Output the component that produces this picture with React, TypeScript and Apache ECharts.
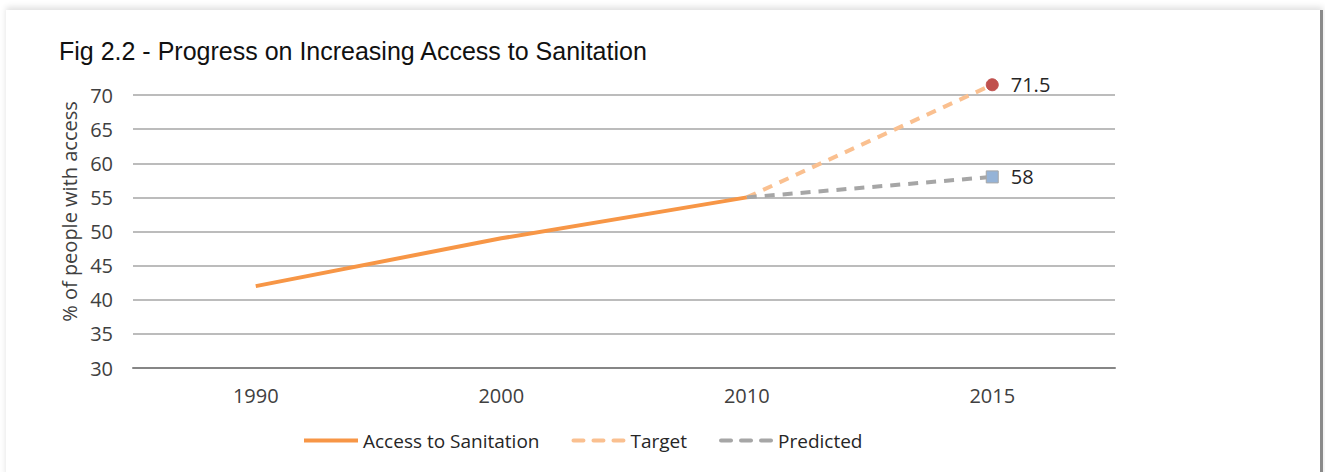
import React, { useEffect, useRef } from "react";
import * as echarts from "echarts";

const years = ["1990", "2000", "2010", "2015"];
const accessValues = [42, 49, 55, null];
const targetValues = [null, null, 55, 71.5];
const predictedValues = [null, null, 55, 58];
const yTicks = { min: 30, max: 70, interval: 5 };
const titleText = "Fig 2.2 - Progress on Increasing Access to Sanitation";
const yAxisTitle = "% of people with access";
const seriesNames = ["Access to Sanitation", "Target", "Predicted"];

const dashIcon =
  "path://M2,0h10a2,2 0 0 1 0,4h-10a2,2 0 0 1 0,-4z M22,0h10a2,2 0 0 1 0,4h-10a2,2 0 0 1 0,-4z M42,0h10a2,2 0 0 1 0,4h-10a2,2 0 0 1 0,-4z";

export default function App() {
  const ref = useRef<HTMLDivElement>(null);
  useEffect(() => {
    const chart = echarts.init(ref.current!, null, { renderer: "svg" });
    const font = "'Open Sans', Lato, sans-serif";
    const lastPoint = (v: number | null, i: number, sym: string, color: string, border: string) =>
      i === 3
        ? {
            value: v,
            symbol: sym,
            symbolSize: 12,
            itemStyle: { color, borderColor: border, borderWidth: 1 },
            label: {
              show: true,
              position: "right",
              distance: 12,
              formatter: "{c}",
              fontFamily: font,
              fontSize: 20,
              color: "#262626",
            },
          }
        : v;
    chart.setOption({
      animation: false,
      title: {
        text: titleText,
        left: 54,
        top: 33,
        textStyle: {
          fontFamily: "'Liberation Sans Narrow', 'Liberation Sans', sans-serif",
          fontWeight: "normal",
          fontSize: 25,
          color: "#111",
        },
      },
      grid: { left: 133, right: 210, top: 95, bottom: 104, containLabel: false },
      legend: {
        bottom: 22,
        left: 304,
        padding: 0,
        itemWidth: 54,
        itemHeight: 4,
        itemGap: 32,
        textStyle: { fontFamily: font, fontSize: 19, color: "#262626" },
        data: [
          { name: seriesNames[0], icon: "rect" },
          { name: seriesNames[1], icon: dashIcon },
          { name: seriesNames[2], icon: dashIcon },
        ],
      },
      xAxis: {
        type: "category",
        data: years,
        boundaryGap: true,
        axisTick: { show: false },
        axisLine: { show: true, lineStyle: { color: "#868686", width: 2 } },
        axisLabel: { fontFamily: font, fontSize: 20, color: "#404040", margin: 17 },
      },
      yAxis: {
        type: "value",
        min: yTicks.min,
        max: yTicks.max,
        interval: yTicks.interval,
        name: yAxisTitle,
        nameLocation: "middle",
        nameGap: 52,
        nameTextStyle: { fontFamily: font, fontSize: 20, color: "#404040", padding: [0, 0, 0, 40] },
        axisLine: { show: false },
        axisTick: { show: false },
        axisLabel: { fontFamily: font, fontSize: 20, color: "#404040", margin: 20 },
        splitLine: { lineStyle: { color: "#A6A6A6", width: 1.5 } },
      },
      series: [
        {
          name: seriesNames[0],
          type: "line",
          data: accessValues,
          symbol: "none",
          clip: false,
          lineStyle: { color: "#F79646", width: 4 },
          itemStyle: { color: "#F79646" },
          z: 3,
        },
        {
          name: seriesNames[1],
          type: "line",
          data: targetValues.map((v, i) => lastPoint(v, i, "circle", "#C0504D", "#C0504D")),
          symbol: "none",
          clip: false,
          lineStyle: { color: "#FAC090", width: 4, type: [10, 8] },
          itemStyle: { color: "#FAC090" },
          z: 2,
        },
        {
          name: seriesNames[2],
          type: "line",
          data: predictedValues.map((v, i) => lastPoint(v, i, "rect", "#95B3D7", "#A6A6A6")),
          symbol: "none",
          clip: false,
          lineStyle: { color: "#A6A6A6", width: 4, type: [10, 8] },
          itemStyle: { color: "#A6A6A6" },
          z: 2,
        },
      ],
    });
    return () => chart.dispose();
  }, []);
  return (
    <div style={{ position: "fixed", left: 0, top: 0, width: 1325, height: 472, background: "#fff", overflow: "hidden" }}>
      <div
        style={{
          position: "absolute",
          left: 6,
          top: 10,
          width: 1314,
          height: 470,
          background: "#fff",
          boxShadow: "0 -3px 6px rgba(0,0,0,0.12)",
          borderRight: "3px solid #8a8a8a",
        }}
      />
      <div ref={ref} style={{ position: "absolute", left: 0, top: 0, width: 1325, height: 472 }} />
    </div>
  );
}
